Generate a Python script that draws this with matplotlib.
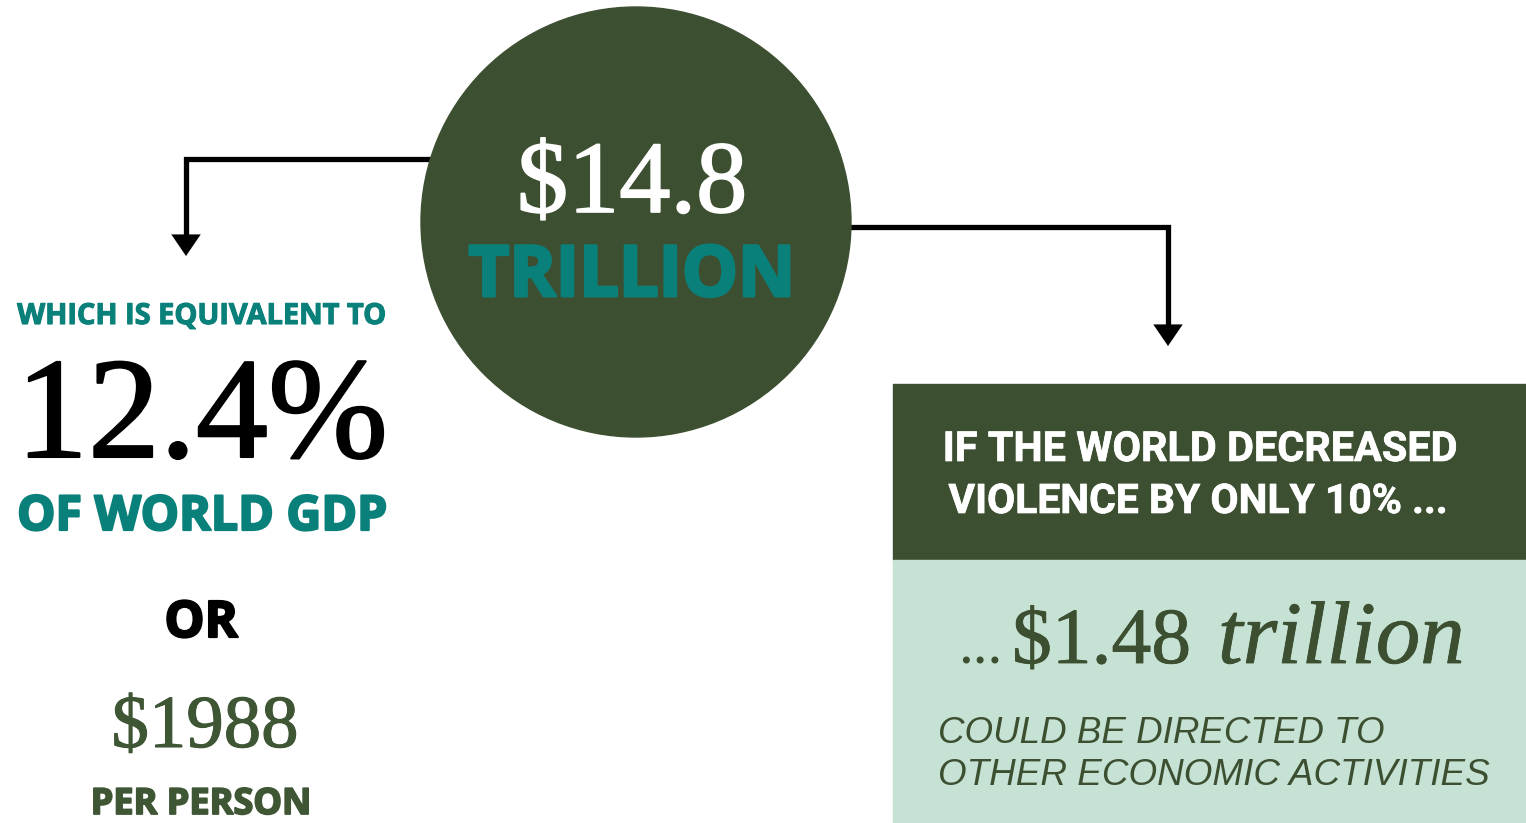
import matplotlib
matplotlib.use('Agg')
import matplotlib.pyplot as plt
import matplotlib.patheffects as pe
from matplotlib.patches import Circle, Rectangle

W, H = 1526, 823

# ---- content ----
headline_amount = "$14.8"
headline_unit = "TRILLION"
gdp_intro = "WHICH IS EQUIVALENT TO"
gdp_share = "12.4%"
gdp_label = "OF WORLD GDP"
connector = "OR"
per_person_amount = "$1988"
per_person_label = "PER PERSON"
scenario_lines = ["IF THE WORLD DECREASED", "VIOLENCE BY ONLY 10% ..."]
savings_prefix = "..."
savings_amount = "$1.48"
savings_unit = "trillion"
savings_lines = ["COULD BE DIRECTED TO", "OTHER ECONOMIC ACTIVITIES"]

# ---- colours ----
DARK = "#3d4f31"
TEAL = "#0a807b"
LIGHT = "#c6e2d4"
OLIVE = "#3f5634"

SERIF = ["Liberation Serif", "DejaVu Serif"]
HEAVY = ["Open Sans", "DejaVu Sans"]
BOLD = ["Roboto", "DejaVu Sans"]
ITAL = ["Liberation Sans", "DejaVu Sans"]

fig = plt.figure(figsize=(W / 100, H / 100), dpi=100)
ax = fig.add_axes([0, 0, 1, 1])
ax.set_xlim(0, W)
ax.set_ylim(H, 0)
ax.axis('off')
renderer = fig.canvas.get_renderer()


def fit(x, y, s, width, ha='center', stroke=0.0, **kw):
    t = ax.text(x, y, s, ha=ha, va='baseline', fontsize=50, **kw)
    bb = t.get_window_extent(renderer)
    t.set_fontsize(50 * (width - stroke) / bb.width)
    if stroke:
        t.set_path_effects([pe.withStroke(linewidth=stroke, foreground=kw.get('color', 'black'))])
    return t


# ---- shapes ----
ax.add_patch(Circle((636, 222), 215, color=DARK, zorder=2))
ax.add_patch(Rectangle((893, 384), W - 893, 176, color=DARK, zorder=1))
ax.add_patch(Rectangle((893, 560), W - 893, H - 560, color=LIGHT, zorder=1))

# ---- connectors ----
ax.plot([440, 186, 186], [159, 159, 240], color='black', lw=3.8,
        solid_joinstyle='miter', solid_capstyle='butt', zorder=1)
ax.annotate('', xy=(186, 256), xytext=(186, 238),
            arrowprops=dict(arrowstyle='-|>,head_length=1.1,head_width=0.75',
                            color='black', lw=0.1, shrinkA=0, shrinkB=0,
                            mutation_scale=14), zorder=1)
ax.plot([840, 1168, 1168], [227, 227, 330], color='black', lw=3.8,
        solid_joinstyle='miter', solid_capstyle='butt', zorder=1)
ax.annotate('', xy=(1168, 346), xytext=(1168, 328),
            arrowprops=dict(arrowstyle='-|>,head_length=1.1,head_width=0.75',
                            color='black', lw=0.1, shrinkA=0, shrinkB=0,
                            mutation_scale=14), zorder=1)

# ---- circle text ----
fit(632, 212, headline_amount, 232, color='white', family=SERIF, stroke=1.2, zorder=3)
fit(632, 296, headline_unit, 329, color=TEAL, family=HEAVY, weight='bold', stroke=2.2, zorder=3)

# ---- left column ----
fit(202, 324, gdp_intro, 370, color=TEAL, family=HEAVY, weight='bold', stroke=0.8)
fit(202, 457, gdp_share, 374, color='black', family=SERIF, stroke=1.5)
fit(202, 530, gdp_label, 372, color=TEAL, family=HEAVY, weight='bold', stroke=1.6)
fit(201, 637, connector, 75, color='black', family=HEAVY, weight='bold', stroke=1.6)
fit(205, 747, per_person_amount, 188, color=OLIVE, family=SERIF, stroke=0.8)
fit(201, 814, per_person_label, 222, color=OLIVE, family=HEAVY, weight='bold', stroke=1.3)

# ---- right panel ----
fit(1200, 461, scenario_lines[0], 515, color='white', family=BOLD, weight='bold', stroke=0.5)
fit(1198, 513, scenario_lines[1], 500, color='white', family=BOLD, weight='bold', stroke=0.5)

fit(958, 663, savings_prefix, 45, ha='left', color=DARK, family=SERIF)
fit(1012, 663, savings_amount, 180, ha='left', color=DARK, family=SERIF, stroke=0.6)
fit(1218, 663, savings_unit, 247, ha='left', color=DARK, family=SERIF, style='italic', stroke=0.6)

fit(938, 743, savings_lines[0], 447, ha='left', color=DARK, family=ITAL, style='italic')
fit(938, 785, savings_lines[1], 552, ha='left', color=DARK, family=ITAL, style='italic')

fig.savefig('out.png', dpi=100)
